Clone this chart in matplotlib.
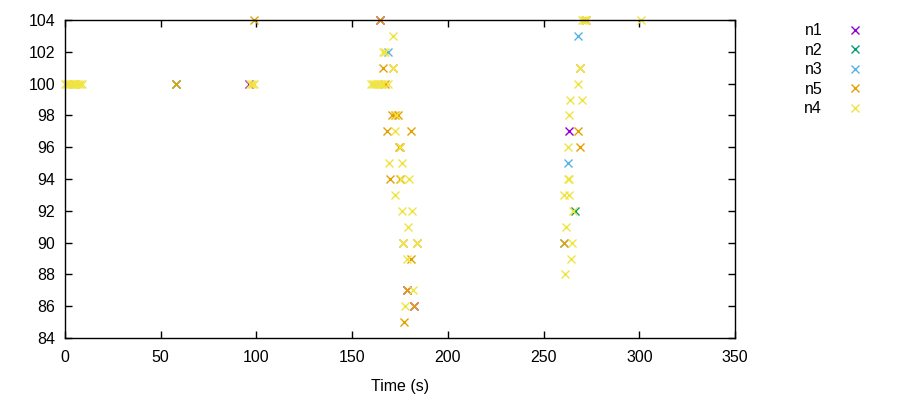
import matplotlib
matplotlib.use("Agg")
import matplotlib.pyplot as plt

plt.rcParams['font.family'] = ['Liberation Sans', 'DejaVu Sans']

# Series data: (time in s, value)
n1_x = [164.6, 96.0, 263.5, 178.5, 182.5]
n1_y = [104, 100, 97, 87, 86]

n2_x = [57.8, 266.5]
n2_y = [100, 92]

n3_x = [168.5, 268.0, 262.6, 260.9]
n3_y = [102, 103, 95, 90]

n5_x = [98.7, 164.6, 57.8, 4.7, 166.0, 171.4, 269.0, 171.0, 172.5, 174.0,
        168.0, 180.6, 267.8, 174.5, 175.0, 269.0, 169.8, 175.0, 176.4, 183.7,
        260.9, 180.8, 178.5, 182.5, 177.3, 272.0, 167.2]
n5_y = [104, 104, 100, 100, 101, 101, 101, 98, 98, 98,
        97, 97, 97, 96, 96, 96, 94, 94, 90, 90,
        90, 89, 87, 86, 85, 104, 100]

n4_x = [0, 1, 2, 3, 4, 5, 6, 7, 8, 9,
        96.5, 97.5, 98.5,
        270.0, 271.0, 272.0, 301.0,
        171.4, 166.0, 167.0, 171.5, 269.0,
        160, 161, 162, 163, 164, 165, 166, 168.5, 268.0,
        263.8, 270.0, 173.0, 263.3, 172.4, 175.0, 262.6,
        169.3, 176.2, 175.5, 179.9, 262.8, 263.3,
        172.2, 260.9, 263.5, 175.9, 181.1, 265.6,
        179.0, 261.7, 176.4, 183.7, 264.7, 178.5, 264.4,
        261.2, 182.0, 177.6]
n4_y = [100, 100, 100, 100, 100, 100, 100, 100, 100, 100,
        100, 100, 100,
        104, 104, 104, 104,
        103, 102, 102, 101, 101,
        100, 100, 100, 100, 100, 100, 100, 100, 100,
        99, 99, 98, 98, 97, 96, 96,
        95, 95, 94, 94, 94, 94,
        93, 93, 93, 92, 92, 92,
        91, 91, 90, 90, 90, 89, 89,
        88, 87, 86]

x_ticks = [0, 50, 100, 150, 200, 250, 300, 350]
y_ticks = [84, 86, 88, 90, 92, 94, 96, 98, 100, 102, 104]

fig = plt.figure(figsize=(9, 4), dpi=100)
ax = fig.add_axes([65/900, 62/400, 670/900, 318/400])

series = [
    ("n1", n1_x, n1_y, "#9400d3"),
    ("n2", n2_x, n2_y, "#009e73"),
    ("n3", n3_x, n3_y, "#56b4e9"),
    ("n5", n5_x, n5_y, "#e69f00"),
    ("n4", n4_x, n4_y, "#f0e442"),
]
for name, xs, ys, c in series:
    ax.plot(xs, ys, linestyle='none', marker='x', markersize=6,
            markeredgewidth=1.0, color=c, label=name, clip_on=False)

ax.set_xlim(0, 350)
ax.set_ylim(84, 104)
ax.set_xticks(x_ticks)
ax.set_yticks(y_ticks)
ax.tick_params(direction='in', length=5, width=1, top=True, right=True,
               labelsize=11.5, colors='black')
ax.tick_params(axis='x', pad=9)
ax.tick_params(axis='y', pad=7)
for s in ax.spines.values():
    s.set_linewidth(1.0)
ax.set_xlabel("Time (s)", fontsize=11.5, labelpad=10)

leg = ax.legend(loc='upper left', bbox_to_anchor=(798/900, 1 - 17/400),
                bbox_transform=fig.transFigure, frameon=False,
                markerfirst=False, fontsize=11.5, handlelength=1.0,
                handletextpad=1.55, labelspacing=0.28, borderaxespad=0)

fig.savefig("out.png", dpi=100)
